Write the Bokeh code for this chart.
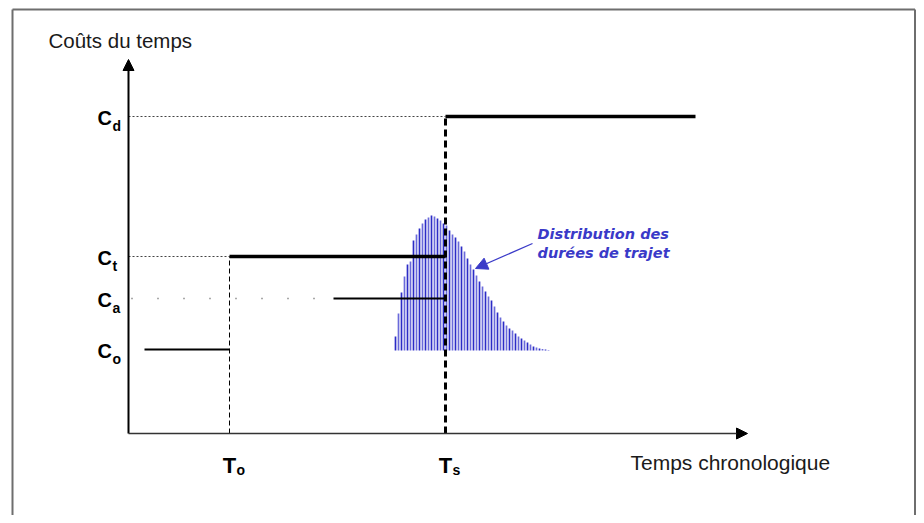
from bokeh.plotting import figure
from bokeh.models import Range1d, Arrow, NormalHead
from bokeh.core.properties import value
from bokeh.embed import file_html
from bokeh.resources import INLINE

# ---------------- data (schematic units: time on x, cost on y) ----------------
cost_names = ["d", "t", "a", "o"]
cost_values = [31.7, 17.7, 13.5, 8.4]          # Cd, Ct, Ca, Co
time_names = ["o", "s"]
time_values = [10.1, 31.7]                      # To, Ts
co_start = 1.6                                  # start of the Co step
ca_start = 20.5                                 # start of the Ca step
cd_end = 56.7                                   # end of the Cd step
ca_dots_end = 19.0
x_axis_end = 61.9
y_axis_end = 37.4

# distribution of trip durations (bar heights above the base level)
dist_base = 8.3
dist_start = 26.7
dist_step = 0.3
dist_heights = [1.4, 3.7, 5.8, 7.4, 8.6, 8.9, 11.0, 11.6, 12.2, 12.7, 13.1, 13.3,
                13.5, 13.4, 13.2, 13.0, 12.7, 12.5, 12.0, 11.6, 11.3, 10.9, 10.4,
                9.9, 9.2, 8.6, 8.1, 7.5, 6.9, 6.4, 5.9, 5.4, 5.0, 4.4, 3.8, 3.3,
                2.9, 2.5, 2.2, 2.0, 1.7, 1.4, 1.2, 1.0, 0.8, 0.6, 0.4, 0.3, 0.2,
                0.15, 0.1, 0.05]

y_title = "Coûts du temps"
x_title = "Temps chronologique"
dist_title = ["Distribution des", "durées de trajet"]

Cd, Ct, Ca, Co = cost_values
To, Ts = time_values

W, H = 916, 515
p = figure(width=W, height=H, output_backend="svg", toolbar_location=None,
           x_range=Range1d(-12.8, 78.8), y_range=Range1d(-8.2, 43.3),
           min_border=0, min_border_left=0, min_border_right=0,
           min_border_top=0, min_border_bottom=0)
p.xaxis.visible = False
p.yaxis.visible = False
p.grid.visible = False
p.outline_line_color = None
p.background_fill_color = "white"
p.border_fill_color = "white"

# frame border (left, top, right)
border_col = "#6e6e6e"
p.segment(x0=[-11.6, -11.6, 78.65], y0=[-9, 42.4, 42.4],
          x1=[-11.6, 78.65, 78.65], y1=[42.4, 42.4, -9],
          line_color=border_col, line_width=2)

# distribution bars
bar_t = [dist_start + dist_step * i for i in range(len(dist_heights))]
bar_col = ["#2c2cc6" if i % 2 == 0 else "#6a6ada" for i in range(len(dist_heights))]
p.vbar(x=bar_t, bottom=dist_base, top=[dist_base + h for h in dist_heights],
       width=0.17, fill_color=bar_col, line_color=None)

# dotted guide lines
p.segment(x0=[0, 0], y0=[Cd, Ct], x1=[Ts, To], y1=[Cd, Ct],
          line_color="#444444", line_width=1, line_dash="2 2")
p.line(x=[0.3, ca_dots_end], y=[Ca, Ca], line_color="#555555", line_width=1.3,
       line_dash="1 25")

# vertical dashed lines
p.line(x=[To, To], y=[0, Ct], line_color="black", line_width=1, line_dash="5 3")
p.line(x=[Ts, Ts], y=[0, Cd], line_color="black", line_width=3, line_dash="7 4")

# cost steps
p.line(x=[co_start, To], y=[Co, Co], line_color="black", line_width=2)
p.line(x=[To, Ts], y=[Ct, Ct], line_color="black", line_width=3.5)
p.line(x=[ca_start, Ts], y=[Ca, Ca], line_color="black", line_width=2)
p.line(x=[Ts, cd_end], y=[Cd, Cd], line_color="black", line_width=3.5)

# axes with arrow heads
p.add_layout(Arrow(end=NormalHead(size=11, fill_color="black", line_color="black"),
                   x_start=0, y_start=0, x_end=0, y_end=y_axis_end,
                   line_color="black", line_width=2))
p.add_layout(Arrow(end=NormalHead(size=11, fill_color="black", line_color="black"),
                   x_start=0, y_start=0, x_end=x_axis_end, y_end=0,
                   line_color="#333333", line_width=1.5))

# annotation arrow for the distribution
blue = "#3a3ac8"
p.add_layout(Arrow(end=NormalHead(size=12, fill_color=blue, line_color=blue),
                   x_start=40.4, y_start=19.0, x_end=34.7, y_end=16.5,
                   line_color=blue, line_width=1.3))
p.text(x=[40.9, 40.9], y=[20.0, 18.1], text=dist_title,
       text_font=value("DejaVu Sans"), text_font_style="bold italic",
       text_font_size="14.5px", text_color=blue, text_baseline="middle",
       text_align="left")

# axis titles
p.text(x=[-8.0], y=[39.3], text=[y_title], text_font=value("Liberation Sans"),
       text_font_size="20.5px", text_color="#1a1a1a", text_baseline="alphabetic")
p.text(x=[50.2], y=[-2.9], text=[x_title], text_font=value("Liberation Sans"),
       text_font_size="21px", text_color="#1a1a1a", text_baseline="alphabetic")

# C labels with subscripts
n = len(cost_values)
p.text(x=[0] * n, y=cost_values, text=["C"] * n, x_offset=-31, y_offset=1,
       text_font=value("Liberation Sans"), text_font_style="bold",
       text_font_size="20px", text_color="black", text_baseline="middle",
       text_align="left")
p.text(x=[0] * n, y=cost_values, text=cost_names, x_offset=-16, y_offset=9,
       text_font=value("Liberation Sans"), text_font_style="bold",
       text_font_size="14px", text_color="black", text_baseline="middle",
       text_align="left")

# T labels with subscripts
m = len(time_values)
p.text(x=time_values, y=[0] * m, text=["T"] * m, x_offset=0, y_offset=32,
       text_font=value("Liberation Sans"), text_font_style="bold",
       text_font_size="22px", text_color="black", text_baseline="alphabetic",
       text_align="center")
p.text(x=time_values, y=[0] * m, text=time_names, x_offset=7, y_offset=36,
       text_font=value("Liberation Sans"), text_font_style="bold",
       text_font_size="14px", text_color="black", text_baseline="alphabetic",
       text_align="left")

open("out.html", "w").write(file_html(p, INLINE))
